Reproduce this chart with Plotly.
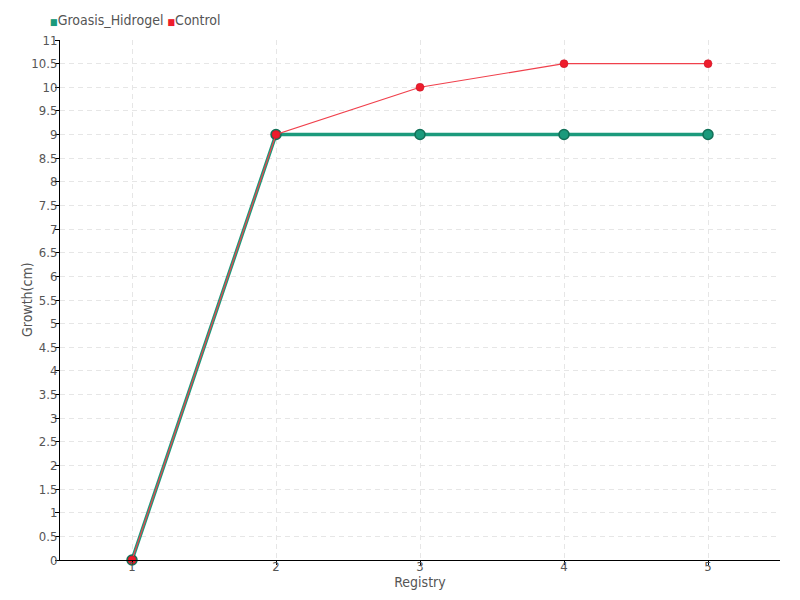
import plotly.graph_objects as go

registry = [1, 2, 3, 4, 5]
groasis = [0, 9, 9, 9, 9]
control = [0, 9, 10, 10.5, 10.5]
series_names = ["Groasis_Hidrogel", "Control"]
yticks = [i * 0.5 for i in range(23)]
ytick_text = [("%g" % v) for v in yticks]

GREEN = "#1b9a7c"
GREEN_DARK = "#137058"
RED = "#ee1c2c"
FONT = "DejaVu Sans Condensed, Roboto Condensed, Liberation Sans Narrow, sans-serif"
GRAY = "#555555"

fig = go.Figure()
fig.add_trace(go.Scatter(x=registry, y=groasis, mode="lines+markers", name=series_names[0],
                         line=dict(color=GREEN, width=3.5), cliponaxis=False,
                         marker=dict(size=10, color=GREEN, line=dict(color=GREEN_DARK, width=1.5)),
                         showlegend=False))
fig.add_trace(go.Scatter(x=registry, y=control, mode="lines+markers", name=series_names[1],
                         line=dict(color="#f0404c", width=1.2), cliponaxis=False,
                         marker=dict(size=8, color=RED, line=dict(color="#c01020", width=0.5)),
                         showlegend=False))

legend_text = (f"<span style='color:{GREEN};font-size:9px'>■</span>{series_names[0]} "
               f"<span style='color:{RED};font-size:9px'>■</span>{series_names[1]}")
fig.add_annotation(text=legend_text, xref="paper", yref="paper", x=-0.016, y=1.0,
                   xanchor="left", yanchor="bottom", yshift=10, showarrow=False,
                   font=dict(size=14, color=GRAY, family=FONT))
fig.add_annotation(text="Growth(cm)", xref="paper", yref="paper", x=0, y=0.5,
                   xanchor="center", yanchor="middle", xshift=-33, textangle=-90,
                   showarrow=False, font=dict(size=14, color=GRAY, family=FONT))

fig.update_layout(
    width=800, height=600,
    margin=dict(l=52, r=28, t=32, b=48, autoexpand=False),
    paper_bgcolor="white", plot_bgcolor="white",
    font=dict(family=FONT, size=13, color=GRAY),
    showlegend=False,
)
fig.update_xaxes(range=[0.5, 5.5], tickvals=registry, ticktext=[str(v) for v in registry],
                 showline=True, linecolor="black", linewidth=1, ticks="outside",
                 tickcolor="black", ticklen=4, ticklabelstandoff=-10, showgrid=True, gridcolor="#e6e6e6",
                 griddash="5px,4px", zeroline=False,
                 title=dict(text="Registry", standoff=0, font=dict(size=14, color=GRAY)))
fig.update_yaxes(range=[0, 11], tickvals=yticks, ticktext=ytick_text,
                 showline=True, linecolor="black", linewidth=1, ticks="outside",
                 tickcolor="black", ticklen=4, ticklabelstandoff=-5, showgrid=True, gridcolor="#e6e6e6",
                 griddash="5px,4px", zeroline=False)

fig.write_html("out.html")
